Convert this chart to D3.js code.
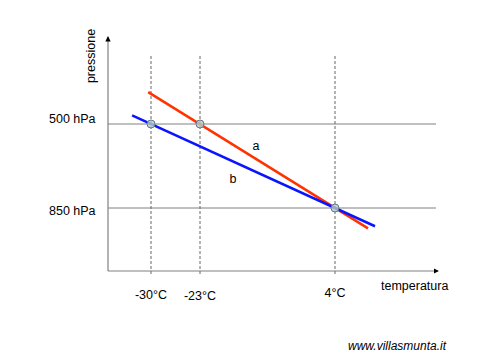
<!DOCTYPE html>
<html><head><meta charset="utf-8">
<script src="https://cdn.jsdelivr.net/npm/d3@7"></script>
<style>body{margin:0;background:#fff}svg{display:block;font-family:"Liberation Sans",Arial,sans-serif}</style>
</head><body>
<svg id="c" width="480" height="360"></svg>
<script>
const tempTicks = [-30, -23, 4];
const tempLabels = ["-30°C", "-23°C", "4°C"];
const pressTicks = [500, 850];
const pressLabels = ["500 hPa", "850 hPa"];
const lineA = [[-30.4, 367], [10.6, 935]];
const lineB = [[-32.7, 464], [12, 926]];
const points = [[-30, 500], [-23, 500], [4, 850]];
const seriesLabels = [["a", -11.8, 608], ["b", -16.4, 746]];

const svg = d3.select("#c");
const x = d3.scaleLinear().domain(tempTicks).range([151, 200, 335]);
const y = d3.scaleLinear().domain(pressTicks).range([124, 208]);
const x0 = 108, x1 = 438, yTop = 37, yBot = 271;

svg.append("defs").append("marker").attr("id","arr").attr("viewBox","0 0 6 6")
  .attr("refX",5).attr("refY",3).attr("markerWidth",4.5).attr("markerHeight",4.5).attr("orient","auto")
  .append("path").attr("d","M0,0L6,3L0,6Z").attr("fill","#000");

svg.selectAll("line.h").data(pressTicks).join("line")
  .attr("x1", x0).attr("x2", 436).attr("y1", d => y(d)).attr("y2", d => y(d))
  .attr("stroke", "#808080").attr("stroke-width", 1);
svg.selectAll("line.v").data(tempTicks).join("line")
  .attr("x1", d => x(d)).attr("x2", d => x(d)).attr("y1", 56).attr("y2", 276)
  .attr("stroke", "#666").attr("stroke-width", 1).attr("stroke-dasharray", "3,2");
svg.append("line").attr("x1", x0).attr("x2", x0).attr("y1", yBot).attr("y2", yTop)
  .attr("stroke", "#808080").attr("stroke-width", 1.2).attr("marker-end","url(#arr)");
svg.append("line").attr("x1", x0).attr("x2", x1).attr("y1", yBot).attr("y2", yBot)
  .attr("stroke", "#808080").attr("stroke-width", 1.2).attr("marker-end","url(#arr)");

const line = d3.line().x(d => x(d[0])).y(d => y(d[1]));
svg.append("path").attr("d", line(lineA)).attr("stroke", "#ff3300").attr("stroke-width", 2.5).attr("fill", "none");
svg.append("path").attr("d", line(lineB)).attr("stroke", "#0a14ff").attr("stroke-width", 2.5).attr("fill", "none");

svg.selectAll("circle").data(points).join("circle")
  .attr("cx", d => x(d[0])).attr("cy", d => y(d[1])).attr("r", 4)
  .attr("fill", "#b4cccc").attr("fill-opacity", 0.8).attr("stroke", "#667788").attr("stroke-width", 1);

svg.selectAll("text.s").data(seriesLabels).join("text")
  .attr("x", d => x(d[1])).attr("y", d => y(d[2]))
  .attr("font-size", 12.5).attr("text-anchor", "middle").text(d => d[0]);

svg.selectAll("text.p").data(pressTicks).join("text")
  .attr("x", 49).attr("y", (d, i) => y(d) + (i === 0 ? -1 : 7))
  .attr("font-size", 12.5).text((d, i) => pressLabels[i]);

svg.selectAll("text.t").data(tempTicks).join("text")
  .attr("x", d => x(d)).attr("y", (d, i) => [299, 300, 297][i])
  .attr("font-size", 12.5).attr("text-anchor", "middle").text((d, i) => tempLabels[i]);

svg.append("text").attr("transform", "translate(95,56) rotate(-90)")
  .attr("font-size", 12.5).attr("text-anchor", "middle").text("pressione");
svg.append("text").attr("x", 381).attr("y", 290).attr("font-size", 12.5).text("temperatura");
svg.append("text").attr("x", 348).attr("y", 350).attr("font-size", 12).attr("font-style", "italic").text("www.villasmunta.it");
</script>
</body></html>
